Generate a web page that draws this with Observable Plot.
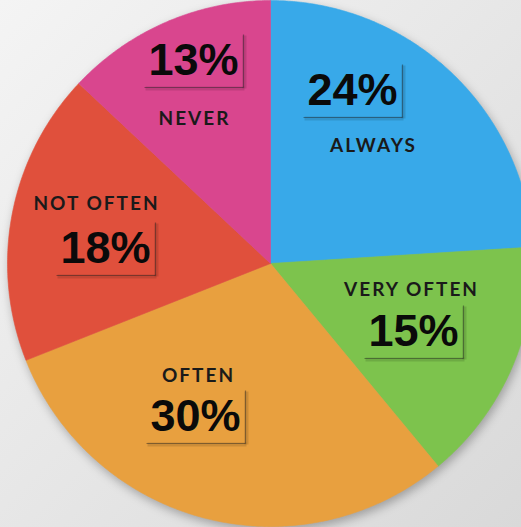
<!DOCTYPE html>
<html><head><meta charset="utf-8">
<script src="https://cdn.jsdelivr.net/npm/d3@7"></script>
<script src="https://cdn.jsdelivr.net/npm/@observablehq/plot@0.6"></script>
<style>
html,body{margin:0;padding:0;}
body{width:521px;height:527px;overflow:hidden;background:linear-gradient(to bottom right,#f4f4f4,#d9d9d9);}
#chart svg{display:block;background:transparent;}
g[aria-label="line"]{filter:drop-shadow(2px 4px 5px rgba(0,0,0,0.28));}
</style></head><body><div id="chart"></div>
<script>
// data
const categories = ["ALWAYS", "VERY OFTEN", "OFTEN", "NOT OFTEN", "NEVER"];
const percents = [24, 15, 30, 18, 13];
const pctLabels = ["24%", "15%", "30%", "18%", "13%"];
const colors = ["#38A9E9", "#7DC34D", "#E8A03F", "#E0503C", "#D9468E"];

// layout (picture pixels)
const W = 521, H = 527, CX = 270, CY = 263, R = 263;
const namePos = [[372, 145], [410, 289], [197, 375], [95, 203], [193, 118]];
const pctPos = [[352, 90], [413, 331], [195, 416], [105, 248], [193, 60]];
const toU = px => (px - CX) / R, toV = py => (CY - py) / R;

// slices as polygons in unit-circle space (angle clockwise from 12 o'clock)
const total = d3.sum(percents);
const pts = [];
let acc = 0;
categories.forEach((name, i) => {
  const a0 = acc / total * 2 * Math.PI;
  acc += percents[i];
  const a1 = acc / total * 2 * Math.PI;
  const n = Math.max(2, Math.ceil((a1 - a0) / (Math.PI / 360)));
  pts.push({name, u: 0, v: 0});
  for (let k = 0; k <= n; k++) {
    const a = a0 + (a1 - a0) * k / n;
    pts.push({name, u: Math.sin(a), v: Math.cos(a)});
  }
  pts.push({name, u: 0, v: 0});
});

const names = categories.map((c, i) => ({text: c, u: toU(namePos[i][0]), v: toV(namePos[i][1])}));
const pcts = pctLabels.map((t, i) => ({text: t, u: toU(pctPos[i][0]), v: toV(pctPos[i][1])}));
const segs = [];
pctPos.forEach(([px, py]) => {
  segs.push({x1: toU(px - 49), y1: toV(py + 27), x2: toU(px + 50), y2: toV(py + 27)});
  segs.push({x1: toU(px + 50), y1: toV(py - 26), x2: toU(px + 50), y2: toV(py + 27)});
});

const chart = Plot.plot({
  width: W, height: H, margin: 0,
  x: {domain: [toU(0), toU(W)], axis: null},
  y: {domain: [toV(H), toV(0)], axis: null},
  color: {domain: categories, range: colors},
  style: {background: "transparent"},
  marks: [
    Plot.line(pts, {x: "u", y: "v", z: "name", fill: "name", stroke: "name", strokeWidth: 0.6}),
    Plot.link(segs, {x1: "x1", y1: "y1", x2: "x2", y2: "y2", stroke: "#000", strokeOpacity: 0.12, strokeWidth: 4, dx: 1, dy: 1}),
    Plot.link(segs, {x1: "x1", y1: "y1", x2: "x2", y2: "y2", stroke: "#222", strokeOpacity: 0.45, strokeWidth: 1.2}),
    Plot.text(names, {x: "u", y: "v", text: "text", fill: "#1a1a1a", fontSize: 19, fontWeight: 700, fontFamily: "Lato", lineAnchor: "middle", dx: 1, style: "letter-spacing:2px"}),
    Plot.text(pcts, {x: "u", y: "v", text: "text", fill: "#0a0a0a", fontSize: 45, fontWeight: 700, fontFamily: "Liberation Sans", lineAnchor: "middle"})
  ]
});
chart.querySelectorAll('g[aria-label="text"]').forEach((g, i) => { if (i === 0) g.setAttribute("letter-spacing", "2"); });
document.getElementById("chart").append(chart);
</script></body></html>
